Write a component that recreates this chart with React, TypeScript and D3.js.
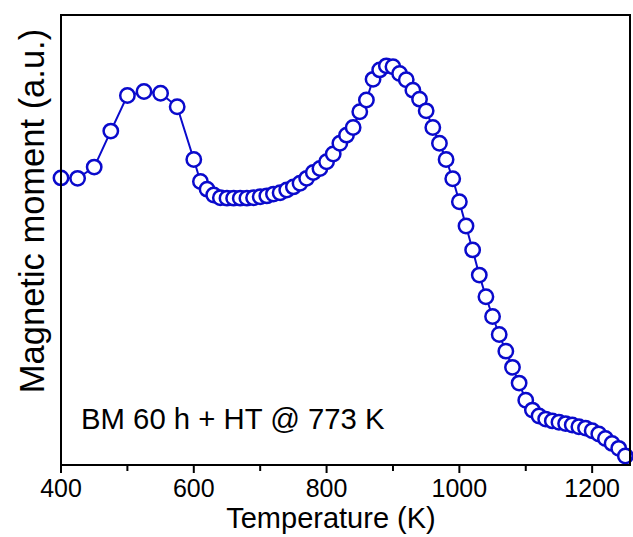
import React from "react";
import * as d3 from "d3";

const temperatures: number[] = [
  400, 425, 450, 475, 500, 525, 550, 575, 600,
  610, 620, 630, 640, 650, 660, 670, 680, 690, 700,
  710, 720, 730, 740, 750, 760, 770, 780, 790, 800,
  810, 820, 830, 840, 850, 860, 870, 880, 890, 900,
  910, 920, 930, 940, 950, 960, 970, 980, 990, 1000,
  1010, 1020, 1030, 1040, 1050, 1060, 1070, 1080, 1090, 1100,
  1110, 1120, 1130, 1140, 1150, 1160, 1170, 1180, 1190, 1200,
  1210, 1220, 1230, 1240, 1250,
];

const moments: number[] = [
  0.638, 0.637, 0.662, 0.742, 0.821, 0.83, 0.826, 0.796, 0.679,
  0.63, 0.613, 0.6, 0.594, 0.593, 0.593, 0.593, 0.593, 0.594, 0.596,
  0.598, 0.602, 0.605, 0.611, 0.618, 0.626, 0.637, 0.65, 0.659, 0.674,
  0.691, 0.715, 0.733, 0.75, 0.785, 0.811, 0.857, 0.878, 0.887, 0.885,
  0.87, 0.856, 0.833, 0.813, 0.787, 0.75, 0.715, 0.679, 0.636, 0.585,
  0.531, 0.478, 0.422, 0.374, 0.33, 0.29, 0.253, 0.217, 0.182, 0.144,
  0.122, 0.109, 0.102, 0.098, 0.095, 0.092, 0.089, 0.085, 0.082, 0.076,
  0.069, 0.059, 0.048, 0.037, 0.02,
];

const xTickValues: number[] = [400, 500, 600, 700, 800, 900, 1000, 1100, 1200];
const xTickLabels: string[] = ["400", "", "600", "", "800", "", "1000", "", "1200"];

const xTitle = "Temperature (K)";
const yTitle = "Magnetic moment (a.u.)";
const annotation = "BM 60 h + HT @ 773 K";

const W = 633;
const H = 537;
const left = 61;
const right = 630;
const top = 15;
const bottom = 465;
const blue = "#0a0acc";
const font = "'Liberation Sans', Arial, sans-serif";

export default function App() {
  const x = d3.scaleLinear().domain([400, 1257]).range([left, right]);
  const y = d3.scaleLinear().domain([0, 1]).range([bottom, top]);
  const data = temperatures.map((t, i) => ({ t, m: moments[i] }));
  const line = d3
    .line<{ t: number; m: number }>()
    .x((d) => x(d.t))
    .y((d) => y(d.m));

  return (
    <svg
      width={W}
      height={H}
      style={{ position: "absolute", left: 0, top: 0, background: "#fff" }}
      fontFamily={font}
    >
      <rect x={0} y={0} width={W} height={H} fill="#fff" />
      <path d={line(data) || ""} fill="none" stroke={blue} strokeWidth={2} />
      {data.map((d, i) => (
        <circle
          key={i}
          cx={x(d.t)}
          cy={y(d.m)}
          r={7.2}
          fill="#fff"
          stroke={blue}
          strokeWidth={2.5}
        />
      ))}
      <rect
        x={left}
        y={top}
        width={right - left}
        height={bottom - top}
        fill="none"
        stroke="#000"
        strokeWidth={2}
      />
      {xTickValues.map((v, i) => {
        const major = xTickLabels[i] !== "";
        return (
          <g key={v} transform={`translate(${x(v)},${bottom})`}>
            <line y1={0} y2={major ? 8 : 6} stroke="#000" strokeWidth={2} />
            {major && (
              <text y={32} textAnchor="middle" fontSize={25} fill="#000">
                {xTickLabels[i]}
              </text>
            )}
          </g>
        );
      })}
      <text
        x={331}
        y={528}
        textAnchor="middle"
        fontSize={29}
        fill="#000"
      >
        {xTitle}
      </text>
      <text
        transform={`translate(44,211) rotate(-90)`}
        textAnchor="middle"
        fontSize={34.5}
        fill="#000"
      >
        {yTitle}
      </text>
      <text x={81} y={429} fontSize={29.3} fill="#000">
        {annotation}
      </text>
    </svg>
  );
}
